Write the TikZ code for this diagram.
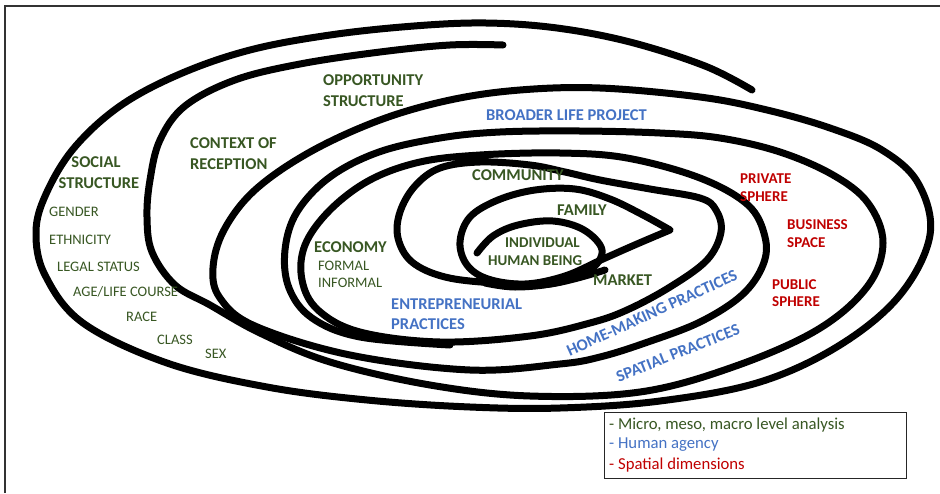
\documentclass[tikz,border=0pt]{standalone}
\usepackage{fontspec}
\setmainfont{Carlito}
\definecolor{lgreen}{RGB}{56,87,35}
\definecolor{lblue}{RGB}{68,114,196}
\definecolor{lred}{RGB}{192,0,0}
\begin{document}
\begin{tikzpicture}[x=1pt,y=-1pt,
  arm/.style={line width=7pt, line cap=round, line join=round, black},
  lab/.style={font=\bfseries\fontsize{16.5}{18}\selectfont, inner sep=0pt, anchor=west},
  labs/.style={font=\bfseries\fontsize{15}{16}\selectfont, inner sep=0pt, anchor=west},
  sub/.style={font=\fontsize{14.5}{16}\selectfont, inner sep=0pt, anchor=west, text=lgreen},
  leg/.style={font=\fontsize{16.7}{18}\selectfont, inner sep=0pt, anchor=west},
]
\useasboundingbox (0,0) rectangle (940,493);
\fill[white] (0,0) rectangle (940,493);
% frame
\draw[line width=1.5pt, black!80] (5,493) -- (5,6) -- (940,6);

% spiral arm A
\draw[arm] plot[smooth, tension=0.6] coordinates {
 (752,90) (705,66) (630,42) (557,28) (486,23) (414,26) (330,35) (250,50)
 (180,74) (120,106) (74,148) (46,194) (36,232) (45,275) (83,323) (167,363)
 (267,387) (367,400) (470,407) (560,408) (660,401) (760,382) (840,345) (900,295)
 (930,235) (918,183) (882,150) (830,128) (767,110) (700,97) (600,88) (520,90)
 (450,100) (380,120) (310,152) (255,190) (224,230) (213,268) (220,298) (255,326)
 (350,355) (470,370) (560,364) (600,357) (645,343) (700,322) (742,295) (763,265)
 (765,237) (748,205) (700,178) (627,158) (560,153) (480,155) (420,162) (370,180)
 (330,210) (305,245) (302,280) (318,310) (360,332) (440,342) (530,336) (590,323)
 (627,310) (670,287) (707,260) (721,232) (716,210) (700,198) (650,189) (600,180)
 (565,172) (530,165) (480,162) (440,168) (415,186) (400,212) (398,238) (412,262)
 (445,277) (495,283) (550,284) (605,270)};

% spiral arm B
\draw[arm] plot[smooth, tension=0.6] coordinates {
 (503,45) (450,45) (380,52) (300,64) (235,80) (185,106) (160,140) (150,180)
 (147,217) (152,252) (175,285) (210,305) (260,333) (330,362) (430,385) (530,396)
 (640,392) (733,367) (817,330) (867,287) (883,243) (868,203) (833,175) (780,152)
 (720,138) (660,133) (580,131) (500,132) (440,138) (379,152) (330,177) (297,212)
 (285,250) (289,288) (312,318) (360,337) (450,345)};

% family loop
\draw[arm] plot[smooth, tension=0.6] coordinates {
 (670,230) (643,215) (610,199) (575,189) (535,190) (498,200) (470,217) (460,242)
 (467,265) (488,279) (525,284) (565,276) (603,259) (637,244) (670,230)};

% individual curl
\draw[arm] plot[smooth, tension=0.6] coordinates {
 (477,253) (493,236) (518,225) (553,221) (584,230) (602,250) (590,270) (555,283)
 (515,287) (485,283)};

% green labels
\node[lab,text=lgreen] (opp1) at (323,80) {OPPORTUNITY};
\node[lab,text=lgreen] (opp2) at (323,101) {STRUCTURE};
\node[lab,text=lgreen] (ctx1) at (190,143) {CONTEXT OF};
\node[lab,text=lgreen] (ctx2) at (190,164) {RECEPTION};
\node[lab,text=lgreen,anchor=center] (soc1) at (96,162) {SOCIAL};
\node[lab,text=lgreen,anchor=center] (soc2) at (99,183) {STRUCTURE};
\node[sub] (gen) at (49,212) {GENDER};
\node[sub] (eth) at (49,240) {ETHNICITY};
\node[sub] (leg) at (57,267) {LEGAL STATUS};
\node[sub] (age) at (73,292) {AGE/LIFE COURSE};
\node[sub] (race) at (126,317) {RACE};
\node[sub] (cls) at (157,340) {CLASS};
\node[sub] (sex) at (205,354) {SEX};
\node[lab,text=lgreen] (com) at (472,175) {COMMUNITY};
\node[lab,text=lgreen] (fam) at (557,210) {FAMILY};
\node[labs,text=lgreen] (ind1) at (505,243) {INDIVIDUAL};
\node[labs,text=lgreen] (ind2) at (488,261) {HUMAN BEING};
\node[lab,text=lgreen] (eco) at (314,247) {ECONOMY};
\node[sub] (for) at (318,266) {FORMAL};
\node[sub] (inf) at (318,283) {INFORMAL};
\node[lab,text=lgreen] (mkt) at (593,280) {MARKET};

% blue labels
\node[lab,text=lblue] (blp) at (486,115) {BROADER LIFE PROJECT};
\node[lab,text=lblue] (ent1) at (391,304) {ENTREPRENEURIAL};
\node[lab,text=lblue] (ent2) at (391,324) {PRACTICES};
\node[lab,text=lblue,anchor=center,rotate=24.5] (home) at (652,313) {HOME-MAKING PRACTICES};
\node[lab,text=lblue,anchor=center,rotate=21.5] (spat) at (678,353) {SPATIAL PRACTICES};

% red labels
\node[labs,text=lred] (pri1) at (740,179) {PRIVATE};
\node[labs,text=lred] (pri2) at (740,197) {SPHERE};
\node[labs,text=lred] (bus1) at (787,225) {BUSINESS};
\node[labs,text=lred] (bus2) at (787,243) {SPACE};
\node[labs,text=lred] (pub1) at (772,285) {PUBLIC};
\node[labs,text=lred] (pub2) at (772,302) {SPHERE};

% legend
\node[draw=black!85, line width=1.2pt, minimum width=302pt, minimum height=66pt, inner sep=0pt, anchor=north west] (legbox) at (604,412) {};
\node[leg,text=lgreen] (l1) at (609,425) {- Micro, meso, macro level analysis};
\node[leg,text=lblue] (l2) at (609,445) {- Human agency};
\node[leg,text=lred] (l3) at (609,465) {- Spatial dimensions};
\end{tikzpicture}
\end{document}
